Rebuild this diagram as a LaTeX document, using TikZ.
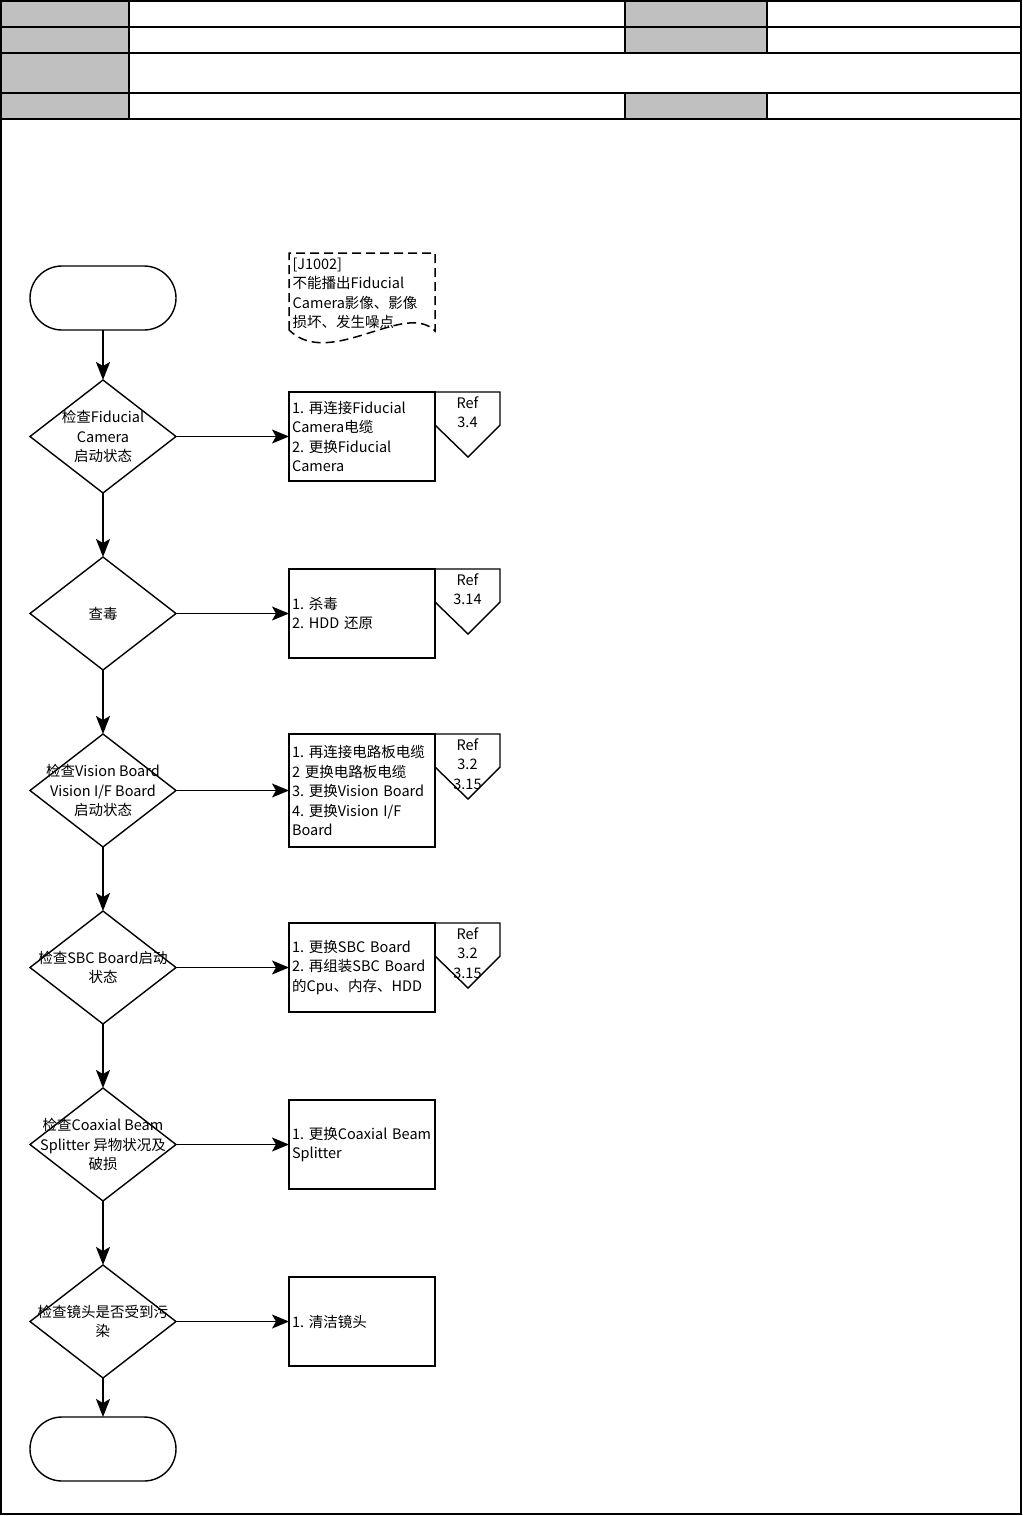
\documentclass[tikz,border=0pt]{standalone}
\usepackage{fontspec}
\setmainfont{Noto Sans CJK SC}
\usepackage{tikz}
\usetikzlibrary{arrows.meta,positioning,shapes.geometric}
\definecolor{hdrgray}{HTML}{C0C0C0}
\frenchspacing

\begin{document}
\begin{tikzpicture}[x=1pt, y=-1pt, line width=1.4pt,
    font=\fontsize{14.5}{19.5}\selectfont,
    rule/.style={line width=1.8pt},
    term/.style={draw, rounded corners=32pt, minimum width=146pt, minimum height=64pt, inner sep=0pt, outer sep=0pt},
    dec/.style={draw, diamond, minimum width=146pt, minimum height=113pt, inner sep=0pt, outer sep=0pt},
    dtxt/.style={align=center, inner sep=0pt},
    act/.style={draw, minimum width=146pt, minimum height=89pt, text width=140pt, inner sep=3pt, outer sep=0pt, align=left},
    reftxt/.style={align=center, inner sep=4pt, anchor=north},
    down/.style={-{Stealth[length=18pt,width=14pt,inset=4pt]}, line width=2pt},
    side/.style={-{Stealth[length=17pt,width=14pt,inset=4pt]}, line width=1.3pt}]

  % header
  \useasboundingbox (0,0) rectangle (1023,1516);
  \fill[hdrgray] (1,1) rectangle (129,119);
  \fill[hdrgray] (625,1) rectangle (767,53);
  \fill[hdrgray] (625,93) rectangle (767,119);
  \draw[rule] (1,1) rectangle (1021,1514);
  \foreach \y in {27,53,93,119} \draw[rule] (1,\y) -- (1021,\y);
  \draw[rule] (129,1) -- (129,119);
  \foreach \x in {625,767} {
    \draw[rule] (\x,1) -- (\x,53);
    \draw[rule] (\x,93) -- (\x,119);
  }

  % note
  \draw[dash pattern=on 9pt off 5pt, line width=1.5pt] (289,330) -- (289,253) -- (435,253) -- (435,331)
    .. controls (405,300) and (330,370) .. cycle;
  \node[anchor=north west, align=left, inner sep=0pt] (nt) at (292,257)
    {[J1002]\\不能播出Fiducial\\Camera影像、影像\\损坏、发生噪点};

  % main column
  \node[term] (st) at (103,298) {};
  \node[dec, below=50pt of st] (d1) {};
  \node[dec, below=64pt of d1] (d2) {};
  \node[dec, below=64pt of d2] (d3) {};
  \node[dec, below=64pt of d3] (d4) {};
  \node[dec, below=64pt of d4] (d5) {};
  \node[dec, below=64pt of d5] (d6) {};
  \node[term, below=39pt of d6] (en) {};

  \node[dtxt] at (d1) {检查Fiducial\\Camera\\启动状态};
  \node[dtxt] at (d2) {查毒};
  \node[dtxt] at (d3) {检查Vision Board\\Vision I/F Board\\启动状态};
  \node[dtxt] at (d4) {检查SBC Board启动\\状态};
  \node[dtxt] at (d5) {检查Coaxial Beam\\Splitter 异物状况及\\破损};
  \node[dtxt] at (d6) {检查镜头是否受到污\\染};

  % actions
  \node[act, right=113pt of d1] (b1) {1. 再连接Fiducial\\Camera电缆\\2. 更换Fiducial\\Camera};
  \node[act, right=113pt of d2] (b2) {1. 杀毒\\2. HDD 还原};
  \node[act, right=113pt of d3, minimum height=113pt] (b3) {1. 再连接电路板电缆\\2 更换电路板电缆\\3. 更换Vision~Board\\4. 更换Vision I/F\\Board};
  \node[act, right=113pt of d4] (b4) {1. 更换SBC~Board\\2. 再组装SBC~Board\\的Cpu、内存、HDD};
  \node[act, right=113pt of d5] (b5) {1. 更换Coaxial~Beam\\Splitter};
  \node[act, right=113pt of d6] (b6) {1. 清洁镜头};

  % ref tags
  \foreach \b/\r in {b1/{Ref\\3.4}, b2/{Ref\\3.14}, b3/{Ref\\3.2\\3.15}, b4/{Ref\\3.2\\3.15}} {
    \draw (\b.north east) -- ++(65,0) -- ++(0,33) -- ++(-32,32) -- ++(-33,-32) -- cycle;
    \node[reftxt] (\b r) at ([xshift=32.5pt]\b.north east) {\r};
  }

  \draw[down] (st) -- (d1);
  \draw[down] (d1) -- (d2);
  \draw[down] (d2) -- (d3);
  \draw[down] (d3) -- (d4);
  \draw[down] (d4) -- (d5);
  \draw[down] (d5) -- (d6);
  \draw[down] (d6) -- (en);

  \draw[side] (d1) -- (b1);
  \draw[side] (d2) -- (b2);
  \draw[side] (d3) -- (b3);
  \draw[side] (d4) -- (b4);
  \draw[side] (d5) -- (b5);
  \draw[side] (d6) -- (b6);
\end{tikzpicture}
\end{document}
